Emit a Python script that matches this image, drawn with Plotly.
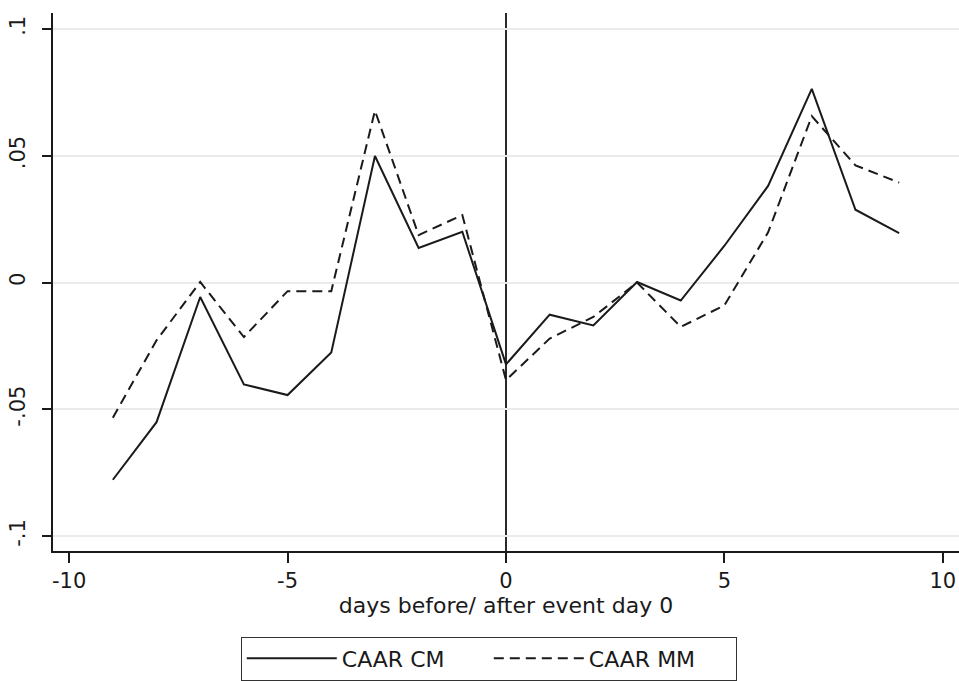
import plotly.graph_objects as go

days = list(range(-9, 10))
caar_cm = [-0.0778, -0.0551, -0.0057, -0.0402, -0.0444, -0.0276, 0.0499, 0.0136, 0.0200,
           -0.0323, -0.0127, -0.0169, 0.0002, -0.0071, 0.0145, 0.0381, 0.0764, 0.0287, 0.0195]
caar_mm = [-0.0533, -0.0228, 0.0002, -0.0215, -0.0034, -0.0034, 0.0678, 0.0187, 0.0266,
           -0.0385, -0.0221, -0.0136, 0.0000, -0.0175, -0.0090, 0.0198, 0.0656, 0.0462, 0.0394]
x_ticks = [-10, -5, 0, 5, 10]
x_tick_labels = ["-10", "-5", "0", "5", "10"]
y_ticks = [-0.1, -0.05, 0, 0.05, 0.1]
y_tick_labels = ["-.1", "-.05", "0", ".05", ".1"]

FONT = "DejaVu Sans"
INK = "#1a1a1a"

fig = go.Figure()
fig.add_trace(go.Scatter(x=days, y=caar_cm, mode="lines", name="CAAR CM",
                         line=dict(color=INK, width=2)))
fig.add_trace(go.Scatter(x=days, y=caar_mm, mode="lines", name="CAAR MM",
                         line=dict(color=INK, width=2, dash="10px,6px")))

fig.add_vline(x=0, line=dict(color="#2a2a2a", width=2), layer="below")

fig.update_layout(
    width=959, height=681,
    margin=dict(l=53, r=0, t=13, b=128),
    paper_bgcolor="white", plot_bgcolor="white",
    font=dict(family=FONT, size=21, color=INK),
    showlegend=True,
    legend=dict(orientation="h", x=0.481, xanchor="center", y=-0.159, yanchor="top",
                bordercolor="#333333", borderwidth=1, font=dict(size=22),
                entrywidth=142, entrywidthmode="pixels", itemwidth=90),
    xaxis=dict(range=[-10.37, 10.37], tickvals=x_ticks, ticktext=x_tick_labels,
               showgrid=False, zeroline=False, showline=True, linecolor=INK, linewidth=1.5,
               ticks="outside", ticklen=10, tickwidth=1.5, tickcolor=INK, automargin=False,
               tickfont=dict(size=21),
               title=dict(text="days before/ after event day 0", standoff=2,
                          font=dict(size=22))),
    yaxis=dict(range=[-0.1059, 0.1063], tickvals=y_ticks, ticktext=y_tick_labels,
               tickangle=-90, showgrid=True, gridcolor="#ebebeb", gridwidth=1.5,
               zeroline=False, showline=True, linecolor=INK, linewidth=1.5,
               ticks="outside", ticklen=9, tickwidth=1.5, tickcolor=INK,
               tickfont=dict(size=21),
               ticklabelstandoff=9, automargin=False),
)

fig.write_html("out.html", config={"displayModeBar": False},
               post_script="document.body.style.margin='0';document.body.style.overflow='hidden';")
